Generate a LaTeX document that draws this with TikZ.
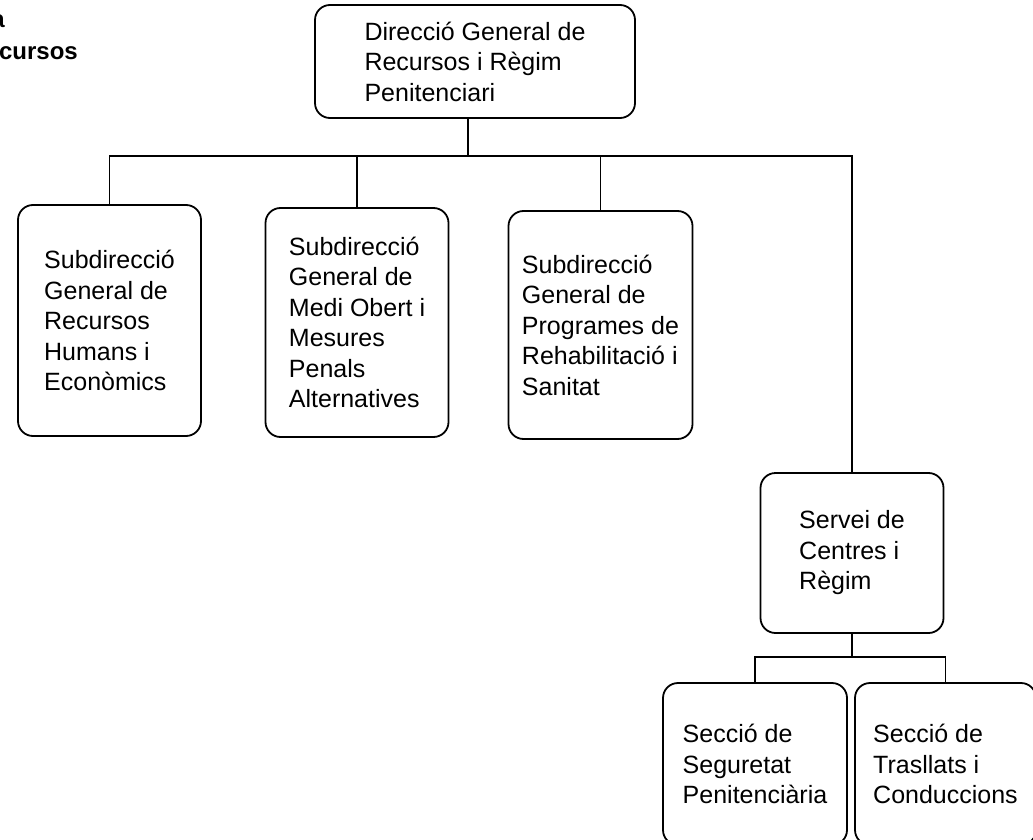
\documentclass[tikz,border=0pt]{standalone}
\usepackage{fontspec}
\setmainfont{Liberation Sans}
\begin{document}
\begin{tikzpicture}[x=1pt,y=-1pt,
  box/.style={draw=black, line width=1.8pt, rounded corners=15pt, align=left,
    font=\fontsize{25}{30.5}\selectfont, inner sep=0pt},
  conn/.style={draw=black, line width=1.8pt},
  frag/.style={font=\bfseries\fontsize{24}{28}\selectfont, inner sep=0pt}]
\useasboundingbox (0,0) rectangle (1033,840);
\clip (0,0) rectangle (1033,840);
\fill[white] (0,0) rectangle (1033,840);
% fragment of heading at left edge
\node[frag, anchor=base east] (fa) at (5,28) {a};
\node[frag, anchor=base east] (fb) at (78,60) {cursos};
% boxes
\node[box, minimum width=320pt, minimum height=113pt] (top) at (475,61.5)
  {Direcció General de\\Recursos i Règim\\Penitenciari};
\node[box, minimum width=183pt, minimum height=231pt] (b1) at (109.5,320.5)
  {Subdirecció\\General de\\Recursos\\Humans i\\Econòmics};
\node[box, minimum width=183pt, minimum height=229pt] (b2) at (357,322.5)
  {Subdirecció\\General de\\Medi Obert i\\Mesures\\Penals\\Alternatives};
\node[box, minimum width=184pt, minimum height=228pt] (b3) at (600.5,325)
  {Subdirecció\\General de\\Programes de\\Rehabilitació i\\Sanitat};
\node[box, minimum width=183pt, minimum height=160pt] (b4) at (852,553)
  {Servei de\\Centres i\\Règim};
\node[box, minimum width=184pt, minimum height=162pt] (b5) at (755,764)
  {Secció de\\Seguretat\\Penitenciària};
\node[box, minimum width=181pt, minimum height=162pt] (b6) at (945.5,764)
  {Secció de\\Trasllats i\\Conduccions};
% connectors
\coordinate (j0) at (468,156);
\coordinate (j1) at (852,657);
\draw[conn] (top.south -| j0) -- (j0);
\draw[conn] (b1.north) |- (b4.north |- j0) -- (b4.north);
\draw[conn] (b2.north) -- (b2.north |- j0);
\draw[conn] (b3.north) -- (b3.north |- j0);
\draw[conn] (b4.south) -- (j1);
\draw[conn] (b5.north) |- (b6.north |- j1) -- (b6.north);
\end{tikzpicture}
\end{document}
